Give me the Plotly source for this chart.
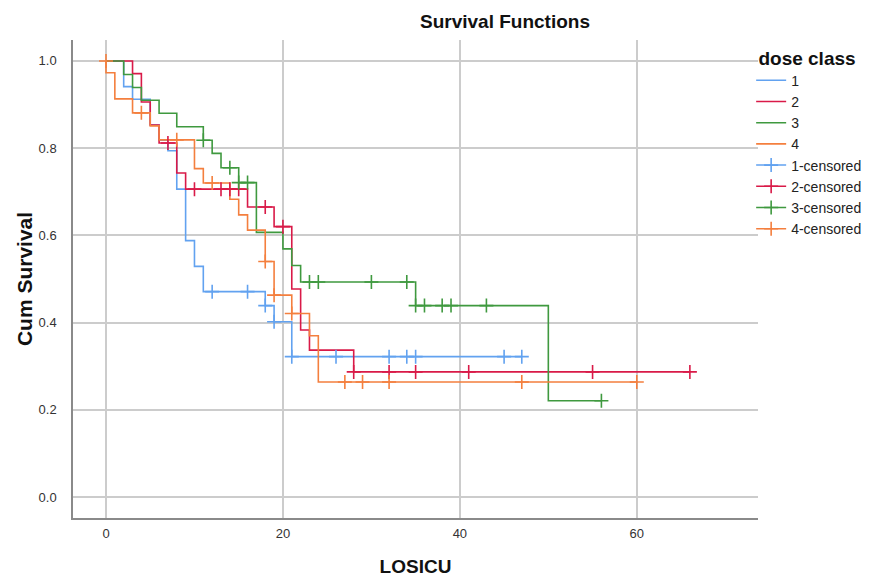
import plotly.graph_objects as go

# ---------------- data ----------------
groups = ["1", "2", "3", "4"]
colors = ["#62a2f0", "#d91a48", "#3f993f", "#f47f3e"]

# event times and survival after each event
times_1 = [2, 3, 5, 6, 7, 8, 9, 10, 11, 18, 19, 21]
surv_1 = [0.941, 0.912, 0.853, 0.818, 0.794, 0.706, 0.588, 0.529, 0.471, 0.439, 0.402, 0.322]
end_1 = 47
cens_t_1 = [12, 16, 18, 19, 21, 26, 32, 34, 35, 45, 47]
cens_s_1 = [0.471, 0.471, 0.439, 0.402, 0.322, 0.322, 0.322, 0.322, 0.322, 0.322, 0.322]

times_2 = [3, 4, 5, 6, 8, 9, 16, 19, 21, 22, 23, 28]
surv_2 = [0.971, 0.906, 0.853, 0.812, 0.743, 0.706, 0.665, 0.620, 0.477, 0.383, 0.337, 0.287]
end_2 = 66
cens_t_2 = [7, 10, 13, 14, 15, 18, 20, 28, 32, 35, 41, 55, 66]
cens_s_2 = [0.812, 0.706, 0.706, 0.706, 0.706, 0.665, 0.620, 0.287, 0.287, 0.287, 0.287, 0.287, 0.287]

times_3 = [2, 3, 4, 6, 8, 11, 12, 13, 15, 17, 20, 21, 22, 35, 50]
surv_3 = [0.969, 0.939, 0.910, 0.880, 0.849, 0.818, 0.788, 0.755, 0.721, 0.607, 0.569, 0.531, 0.493, 0.439, 0.221]
end_3 = 56
cens_t_3 = [11, 14, 15, 16, 23, 24, 30, 34, 35, 36, 38, 39, 43, 56]
cens_s_3 = [0.818, 0.755, 0.721, 0.721, 0.493, 0.493, 0.493, 0.493, 0.439, 0.439, 0.439, 0.439, 0.439, 0.221]

times_4 = [0, 1, 3, 5, 6, 10, 11, 14, 15, 16, 18, 19, 21, 23, 24]
surv_4 = [0.973, 0.913, 0.881, 0.851, 0.819, 0.753, 0.720, 0.683, 0.647, 0.612, 0.540, 0.463, 0.421, 0.370, 0.264]
end_4 = 60
cens_t_4 = [0, 4, 8, 12, 18, 19, 21, 27, 29, 32, 47, 60]
cens_s_4 = [1.0, 0.881, 0.819, 0.720, 0.540, 0.463, 0.421, 0.264, 0.264, 0.264, 0.264, 0.264]

x_ticks = [0, 20, 40, 60]
y_ticks = [0.0, 0.2, 0.4, 0.6, 0.8, 1.0]

series = [
    (times_1, surv_1, end_1, cens_t_1, cens_s_1),
    (times_2, surv_2, end_2, cens_t_2, cens_s_2),
    (times_3, surv_3, end_3, cens_t_3, cens_s_3),
    (times_4, surv_4, end_4, cens_t_4, cens_s_4),
]

FONT = "Liberation Sans, Arial, sans-serif"
W, H = 864, 569   # page body has an 8px margin inside the 872x577 window

fig = go.Figure()

# step curves
for name, col, (t, s, end, ct, cs) in zip(groups, colors, series):
    xs = [0] + t + [end]
    ys = [1.0] + s + [s[-1]]
    fig.add_trace(go.Scatter(
        x=xs, y=ys, mode="lines", line=dict(color=col, width=1.6, shape="hv"),
        name=name, hoverinfo="skip"))

# censored marks (None between points so no connecting line is drawn,
# but the legend shows a line with the cross, like the reference)
for name, col, (t, s, end, ct, cs) in zip(groups, colors, series):
    cx, cy = [], []
    for a, b in zip(ct, cs):
        cx += [a, None]
        cy += [b, None]
    fig.add_trace(go.Scatter(
        x=cx, y=cy, mode="lines+markers", name=name + "-censored",
        connectgaps=False,
        line=dict(color=col, width=1.5),
        marker=dict(symbol="cross-thin", size=10, color=col,
                    line=dict(color=col, width=1.6)),
        hoverinfo="skip"))

fig.update_layout(
    width=W, height=H,
    margin=dict(l=65, r=114, t=32, b=59, autoexpand=False),
    paper_bgcolor="white", plot_bgcolor="white",
    font=dict(family=FONT, color="#222222"),
    title=dict(text="<b>Survival Functions</b>", x=497 / W, xref="container",
               xanchor="center", y=1 - 13 / H, yref="container", yanchor="middle",
               font=dict(size=19, color="#111111", family=FONT)),
    showlegend=True,
    legend=dict(
        title=dict(text="<b>&nbsp;dose class</b>", font=dict(size=19, color="#111111")),
        x=0.99, xanchor="left", y=1.0, yanchor="top",
        font=dict(size=14, color="#222222"),
        tracegroupgap=0, itemwidth=30,
        bgcolor="rgba(0,0,0,0)"),
    xaxis=dict(
        range=[-3.73, 73.7], tickvals=x_ticks, ticktext=[str(v) for v in x_ticks],
        showgrid=True, gridcolor="#cccccc", gridwidth=1.5,
        zeroline=False, showline=True, linecolor="#8a8a8a", linewidth=1.5,
        ticks="", ticklabelstandoff=3, automargin=False,
        tickfont=dict(size=13, color="#333333"),
        title=dict(text="<b>LOSICU</b>", font=dict(size=19, color="#111111"), standoff=25)),
    yaxis=dict(
        range=[-0.048, 1.048], tickvals=y_ticks, ticktext=[f"{v:.1f}" for v in y_ticks],
        showgrid=True, gridcolor="#cccccc", gridwidth=1.5,
        zeroline=False, showline=True, linecolor="#8a8a8a", linewidth=1.5,
        ticks="", ticklabelstandoff=12, automargin=False,
        tickfont=dict(size=13, color="#333333"),
        title=dict(text="<b>Cum Survival</b>", font=dict(size=21, color="#111111"), standoff=0)),
)

fig.write_html("out.html")
